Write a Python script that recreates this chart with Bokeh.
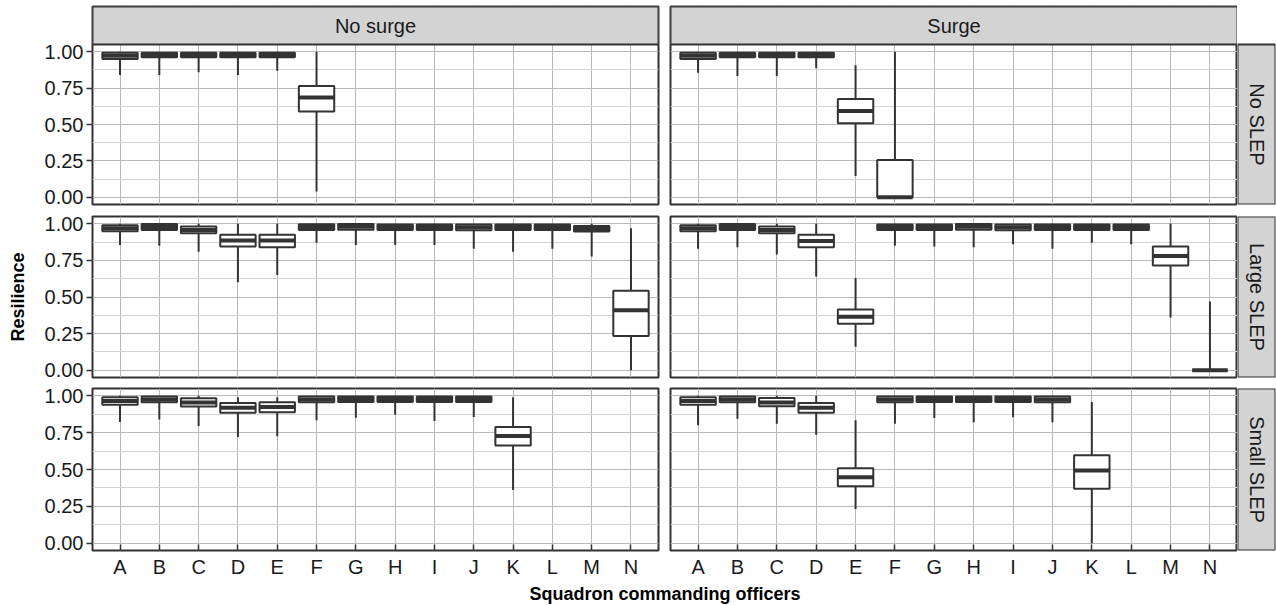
import math
from bokeh.plotting import figure
from bokeh.layouts import column, row
from bokeh.models import (FixedTicker, PrintfTickFormatter, Label, Range1d,
                          FactorRange, ColumnDataSource, BoxAnnotation)
from bokeh.embed import file_html
from bokeh.resources import INLINE

# ---------------- data ----------------
officers = list("ABCDEFGHIJKLMN")
surge_levels = ["No surge", "Surge"]
slep_levels = ["No SLEP", "Large SLEP", "Small SLEP"]
y_ticks = [0.0, 0.25, 0.5, 0.75, 1.0]
y_minor = [0.125, 0.375, 0.625, 0.875]

# No SLEP, No surge
noslep_nosurge_officer = ["A", "B", "C", "D", "E", "F"]
noslep_nosurge_lower = [0.84, 0.84, 0.86, 0.84, 0.87, 0.04]
noslep_nosurge_q1 = [0.950, 0.962, 0.962, 0.962, 0.962, 0.59]
noslep_nosurge_median = [0.972, 0.978, 0.978, 0.978, 0.978, 0.685]
noslep_nosurge_q3 = [0.993, 0.994, 0.994, 0.994, 0.994, 0.765]
noslep_nosurge_upper = [1.0, 1.0, 1.0, 1.0, 1.0, 1.0]

# No SLEP, Surge
noslep_surge_officer = ["A", "B", "C", "D", "E", "F"]
noslep_surge_lower = [0.856, 0.833, 0.833, 0.886, 0.146, 0.0]
noslep_surge_q1 = [0.950, 0.962, 0.962, 0.962, 0.508, 0.0]
noslep_surge_median = [0.972, 0.978, 0.978, 0.978, 0.593, 0.0]
noslep_surge_q3 = [0.993, 0.994, 0.994, 0.994, 0.675, 0.256]
noslep_surge_upper = [1.0, 1.0, 1.0, 1.0, 0.908, 1.0]

# Large SLEP, No surge
large_nosurge_officer = list("ABCDEFGHIJKLMN")
large_nosurge_lower = [0.856, 0.85, 0.81, 0.60, 0.65, 0.87, 0.856, 0.856, 0.856, 0.83, 0.81, 0.83, 0.776, 0.0]
large_nosurge_q1 = [0.950, 0.958, 0.936, 0.845, 0.840, 0.958, 0.960, 0.958, 0.958, 0.956, 0.958, 0.958, 0.947, 0.233]
large_nosurge_median = [0.970, 0.978, 0.958, 0.886, 0.886, 0.978, 0.980, 0.978, 0.978, 0.976, 0.978, 0.978, 0.965, 0.41]
large_nosurge_q3 = [0.990, 0.998, 0.982, 0.925, 0.925, 0.997, 0.998, 0.996, 0.996, 0.995, 0.996, 0.996, 0.985, 0.543]
large_nosurge_upper = [1.0, 1.0, 1.0, 1.0, 1.0, 1.0, 1.0, 1.0, 1.0, 1.0, 1.0, 1.0, 1.0, 0.97]

# Large SLEP, Surge
large_surge_officer = list("ABCDEFGHIJKLMN")
large_surge_lower = [0.83, 0.84, 0.79, 0.64, 0.16, 0.85, 0.845, 0.84, 0.86, 0.83, 0.87, 0.86, 0.36, 0.0]
large_surge_q1 = [0.950, 0.958, 0.936, 0.840, 0.318, 0.958, 0.958, 0.960, 0.956, 0.958, 0.958, 0.958, 0.715, 0.0]
large_surge_median = [0.970, 0.978, 0.958, 0.882, 0.365, 0.978, 0.978, 0.980, 0.976, 0.978, 0.978, 0.978, 0.78, 0.0]
large_surge_q3 = [0.990, 0.998, 0.982, 0.925, 0.415, 0.996, 0.996, 0.998, 0.995, 0.996, 0.996, 0.996, 0.845, 0.0]
large_surge_upper = [1.0, 1.0, 1.0, 1.0, 0.63, 1.0, 1.0, 1.0, 1.0, 1.0, 1.0, 1.0, 1.0, 0.47]

# Small SLEP, No surge
small_nosurge_officer = list("ABCDEFGHIJK")
small_nosurge_lower = [0.822, 0.84, 0.795, 0.72, 0.725, 0.834, 0.852, 0.872, 0.829, 0.856, 0.361]
small_nosurge_q1 = [0.940, 0.956, 0.928, 0.885, 0.888, 0.956, 0.958, 0.958, 0.958, 0.958, 0.663]
small_nosurge_median = [0.965, 0.976, 0.955, 0.920, 0.925, 0.976, 0.978, 0.978, 0.978, 0.978, 0.727]
small_nosurge_q3 = [0.990, 0.995, 0.983, 0.952, 0.957, 0.995, 0.996, 0.996, 0.996, 0.996, 0.788]
small_nosurge_upper = [1.0, 1.0, 1.0, 0.99, 0.99, 1.0, 1.0, 1.0, 1.0, 1.0, 0.99]

# Small SLEP, Surge
small_surge_officer = list("ABCDEFGHIJK")
small_surge_lower = [0.80, 0.845, 0.81, 0.736, 0.232, 0.81, 0.85, 0.82, 0.855, 0.82, 0.0]
small_surge_q1 = [0.940, 0.956, 0.930, 0.885, 0.386, 0.956, 0.958, 0.958, 0.958, 0.956, 0.37]
small_surge_median = [0.965, 0.976, 0.955, 0.920, 0.447, 0.976, 0.978, 0.978, 0.978, 0.976, 0.493]
small_surge_q3 = [0.990, 0.995, 0.985, 0.952, 0.509, 0.995, 0.996, 0.996, 0.996, 0.995, 0.597]
small_surge_upper = [1.0, 1.0, 1.0, 1.0, 0.834, 1.0, 1.0, 1.0, 1.0, 1.0, 0.958]

panels = {
    ("No SLEP", "No surge"): dict(officer=noslep_nosurge_officer, lower=noslep_nosurge_lower, q1=noslep_nosurge_q1,
                                  median=noslep_nosurge_median, q3=noslep_nosurge_q3, upper=noslep_nosurge_upper),
    ("No SLEP", "Surge"): dict(officer=noslep_surge_officer, lower=noslep_surge_lower, q1=noslep_surge_q1,
                               median=noslep_surge_median, q3=noslep_surge_q3, upper=noslep_surge_upper),
    ("Large SLEP", "No surge"): dict(officer=large_nosurge_officer, lower=large_nosurge_lower, q1=large_nosurge_q1,
                                     median=large_nosurge_median, q3=large_nosurge_q3, upper=large_nosurge_upper),
    ("Large SLEP", "Surge"): dict(officer=large_surge_officer, lower=large_surge_lower, q1=large_surge_q1,
                                  median=large_surge_median, q3=large_surge_q3, upper=large_surge_upper),
    ("Small SLEP", "No surge"): dict(officer=small_nosurge_officer, lower=small_nosurge_lower, q1=small_nosurge_q1,
                                     median=small_nosurge_median, q3=small_nosurge_q3, upper=small_nosurge_upper),
    ("Small SLEP", "Surge"): dict(officer=small_surge_officer, lower=small_surge_lower, q1=small_surge_q1,
                                  median=small_surge_median, q3=small_surge_q3, upper=small_surge_upper),
}

# ---------------- style ----------------
FONT = "Liberation Sans"
DARK = "#333333"
TEXT = "#1a1a1a"
GRID = "#b8b8b8"
GRID_MINOR = "#d4d4d4"
STRIP_FILL = "#d3d3d3"
TICK_FS = "20px"
STRIP_FS = "20px"

Y_START, Y_END = -0.05, 1.05
LEFT_W, RIGHT_W, STRIP_W = 664, 573, 39
LEFT_BORDERS = (92, 6)
RIGHT_BORDERS = (6, 0)
TOP_STRIP_H = 38
# (top border, extra strip height above panel, panel height, bottom border) per facet row
ROW_SPECS = [(6, TOP_STRIP_H, 160, 6), (6, 0, 161, 5), (6, 0, 162, 32)]


def make_panel(data, col, r, strip_text=None):
    top, extra, ph, bot = ROW_SPECS[r]
    show_x = (r == len(ROW_SPECS) - 1)
    show_y = (col == 0)
    w = LEFT_W if col == 0 else RIGHT_W
    ml, mr = LEFT_BORDERS if col == 0 else RIGHT_BORDERS
    units_per_px = (Y_END - Y_START) / ph
    y_top = Y_END + extra * units_per_px
    p = figure(width=w, height=top + extra + ph + bot,
               x_range=FactorRange(factors=officers, range_padding=0.2, range_padding_units="absolute"),
               y_range=Range1d(Y_START, y_top),
               toolbar_location=None, output_backend="svg",
               min_border_left=ml, min_border_right=mr, min_border_top=top, min_border_bottom=bot,
               x_axis_location="below" if show_x else None,
               y_axis_location="left" if show_y else None,
               background_fill_color="white", border_fill_color="white",
               outline_line_color=DARK, outline_line_width=2)
    yt = FixedTicker(ticks=y_ticks, minor_ticks=y_minor)
    p.ygrid.ticker = yt
    p.ygrid.grid_line_color = GRID
    p.ygrid.minor_grid_line_color = GRID_MINOR
    p.xgrid.grid_line_color = GRID
    if show_y:
        ax = p.yaxis[0]
        ax.ticker = yt
        ax.formatter = PrintfTickFormatter(format="%.2f")
        ax.axis_line_color = None
        ax.major_tick_in = 0
        ax.major_tick_out = 6
        ax.minor_tick_in = 0
        ax.minor_tick_out = 0
        ax.major_tick_line_color = DARK
        ax.major_tick_line_width = 1.5
        ax.major_label_standoff = 3
        ax.major_label_text_font = FONT
        ax.major_label_text_font_size = TICK_FS
        ax.major_label_text_color = TEXT
        if r == 1:
            ax.axis_label = "Resilience"
            ax.axis_label_text_font = FONT
            ax.axis_label_text_font_style = "bold"
            ax.axis_label_text_font_size = "18px"
            ax.axis_label_text_color = "black"
            ax.axis_label_standoff = 14
    if show_x:
        ax = p.xaxis[0]
        ax.axis_line_color = None
        ax.major_tick_in = 6
        ax.major_tick_out = 0
        ax.major_tick_line_color = DARK
        ax.major_tick_line_width = 1.5
        ax.major_label_standoff = 5
        ax.major_label_text_font = FONT
        ax.major_label_text_font_size = TICK_FS
        ax.major_label_text_color = TEXT

    src = ColumnDataSource(data)
    p.segment(x0="officer", y0="lower", x1="officer", y1="q1", source=src,
              line_color=DARK, line_width=2)
    p.segment(x0="officer", y0="q3", x1="officer", y1="upper", source=src,
              line_color=DARK, line_width=2)
    p.vbar(x="officer", bottom="q1", top="q3", width=0.9, source=src,
           fill_color="white", line_color=DARK, line_width=2)
    p.rect(x="officer", y="median", width=0.9, height=4, height_units="screen", source=src,
           fill_color=DARK, line_color=None)

    if strip_text is not None and extra > 0:
        # facet strip shares this figure's frame, stacked above the data area
        p.add_layout(BoxAnnotation(bottom=Y_END, top=y_top,
                                   fill_color=STRIP_FILL, fill_alpha=1.0,
                                   line_color=DARK, line_width=2, line_alpha=1.0))
        p.add_layout(Label(x=len(officers) / 2, y=(Y_END + y_top) / 2,
                           text=strip_text, text_align="center", text_baseline="middle",
                           text_font=FONT, text_font_size=STRIP_FS, text_color=TEXT))
    return p


def make_side_strip(text, r):
    top, extra, ph, bot = ROW_SPECS[r]
    y_top = 1.0 + extra / ph
    p = figure(width=STRIP_W, height=top + extra + ph + bot,
               x_range=Range1d(0, 1), y_range=Range1d(0, y_top),
               toolbar_location=None, output_backend="svg",
               min_border_left=0, min_border_right=1, min_border_top=top, min_border_bottom=bot,
               x_axis_location=None, y_axis_location=None,
               background_fill_color="white", border_fill_color="white",
               outline_line_color=None)
    p.grid.visible = False
    p.add_layout(BoxAnnotation(bottom=0, top=1, fill_color=STRIP_FILL, fill_alpha=1.0,
                               line_color=DARK, line_width=2, line_alpha=1.0))
    p.add_layout(Label(x=0.5, y=0.5, text=text, text_align="center", text_baseline="middle",
                       angle=-math.pi / 2,
                       text_font=FONT, text_font_size=STRIP_FS, text_color=TEXT))
    return p


rows = []
for r, slep in enumerate(slep_levels):
    pl = make_panel(panels[(slep, surge_levels[0])], 0, r,
                    strip_text=surge_levels[0] if r == 0 else None)
    pr = make_panel(panels[(slep, surge_levels[1])], 1, r,
                    strip_text=surge_levels[1] if r == 0 else None)
    st = make_side_strip(slep, r)
    rows.append(row(pl, pr, st))

used_h = sum(t + e + f + b for t, e, f, b in ROW_SPECS)
xt = figure(width=LEFT_W + RIGHT_W, height=605 - used_h, x_range=Range1d(0, 1), y_range=Range1d(0, 1),
            toolbar_location=None, output_backend="svg",
            min_border_left=LEFT_BORDERS[0], min_border_right=0, min_border_top=0, min_border_bottom=0,
            x_axis_location=None, y_axis_location=None, outline_line_color=None)
xt.grid.visible = False
xt.add_layout(Label(x=0.5, y=0.5, text="Squadron commanding officers", text_align="center",
                    text_baseline="middle", text_font=FONT, text_font_style="bold",
                    text_font_size="18px", text_color="black"))
rows.append(xt)

layout = column(*rows)
open("out.html", "w").write(file_html(layout, INLINE))
